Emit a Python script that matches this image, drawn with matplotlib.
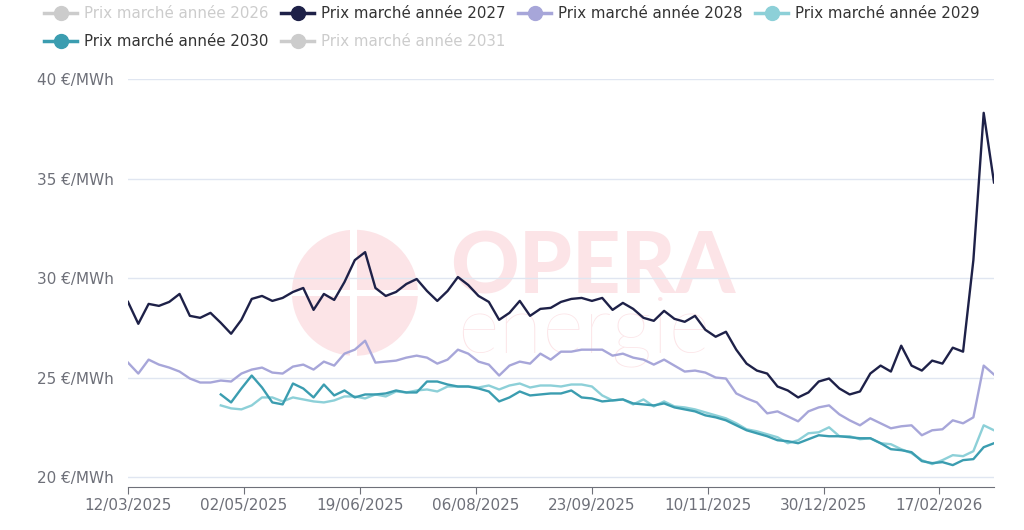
import numpy as np
import matplotlib.pyplot as plt
from matplotlib.lines import Line2D
from matplotlib.patches import Ellipse, Rectangle

# x axis: trading days, one label every 34 days
tick_labels = ["12/03/2025", "02/05/2025", "19/06/2025", "06/08/2025",
               "23/09/2025", "10/11/2025", "30/12/2025", "17/02/2026"]
tick_every = 34
n_days = 254

# prices read every ~3 trading days (€/MWh)
prix_2027 = [28.8, 27.7, 28.7, 28.6, 28.8, 29.2, 28.1, 28.0, 28.25, 27.75,
             27.2, 27.9, 28.95, 29.1, 28.85, 29.0, 29.3, 29.5, 28.4, 29.2,
             28.9, 29.8, 30.9, 31.3, 29.5, 29.1, 29.3, 29.7, 29.95, 29.35,
             28.85, 29.35, 30.05, 29.65, 29.1, 28.8, 27.9, 28.25, 28.85, 28.1,
             28.45, 28.5, 28.8, 28.95, 29.0, 28.85, 29.0, 28.4, 28.75, 28.45,
             28.0, 27.85, 28.35, 27.95, 27.8, 28.1, 27.4, 27.05, 27.3, 26.4,
             25.7, 25.35, 25.2, 24.55, 24.35, 24.0, 24.25, 24.8, 24.95, 24.45,
             24.15, 24.3, 25.2, 25.6, 25.3, 26.6, 25.6, 25.35, 25.85, 25.7,
             26.5, 26.3, 30.9, 38.3, 34.8]

prix_2028 = [25.75, 25.2, 25.9, 25.65, 25.5, 25.3, 24.95, 24.75, 24.75, 24.85,
             24.8, 25.2, 25.4, 25.5, 25.25, 25.2, 25.55, 25.65, 25.4, 25.8,
             25.6, 26.2, 26.4, 26.85, 25.75, 25.8, 25.85, 26.0, 26.1, 26.0,
             25.7, 25.9, 26.4, 26.2, 25.8, 25.65, 25.1, 25.6, 25.8, 25.7,
             26.2, 25.9, 26.3, 26.3, 26.4, 26.4, 26.4, 26.1, 26.2, 26.0,
             25.9, 25.65, 25.9, 25.6, 25.3, 25.35, 25.25, 25.0, 24.95, 24.2,
             23.95, 23.75, 23.2, 23.3, 23.05, 22.8, 23.3, 23.5, 23.6, 23.15,
             22.85, 22.6, 22.95, 22.7, 22.45, 22.55, 22.6, 22.1, 22.35, 22.4,
             22.85, 22.7, 23.0, 25.6, 25.15]

prix_2029 = [np.nan] * 9 + [
             23.6, 23.45, 23.4, 23.6, 24.0, 24.0, 23.8, 24.0, 23.9, 23.8, 23.75,
             23.85, 24.05, 24.05, 23.95, 24.15, 24.05, 24.3, 24.25, 24.35, 24.4,
             24.3, 24.55, 24.55, 24.55, 24.5, 24.6, 24.4, 24.6, 24.7, 24.5,
             24.6, 24.6, 24.55, 24.65, 24.65, 24.55, 24.1, 23.85, 23.9, 23.65,
             23.9, 23.55, 23.8, 23.55, 23.5, 23.4, 23.25, 23.1, 22.95, 22.7,
             22.4, 22.3, 22.15, 22.0, 21.7, 21.85, 22.2, 22.25, 22.5, 22.05,
             22.05, 21.9, 21.95, 21.7, 21.65, 21.4, 21.2, 20.85, 20.65, 20.85,
             21.1, 21.05, 21.3, 22.6, 22.35]

prix_2030 = [np.nan] * 9 + [
             24.15, 23.75, 24.45, 25.1, 24.5, 23.75, 23.65, 24.7, 24.45, 24.0, 24.65,
             24.1, 24.35, 24.0, 24.15, 24.15, 24.2, 24.35, 24.25, 24.25, 24.8,
             24.8, 24.65, 24.55, 24.55, 24.45, 24.3, 23.8, 24.0, 24.3, 24.1,
             24.15, 24.2, 24.2, 24.35, 24.0, 23.95, 23.8, 23.85, 23.9, 23.7,
             23.65, 23.6, 23.7, 23.5, 23.4, 23.3, 23.1, 23.0, 22.85, 22.6,
             22.35, 22.2, 22.05, 21.85, 21.8, 21.7, 21.9, 22.1, 22.05, 22.05,
             22.0, 21.95, 21.95, 21.7, 21.4, 21.35, 21.25, 20.8, 20.7, 20.75,
             20.6, 20.85, 20.9, 21.5, 21.7]

series = [("Prix marché année 2027", prix_2027, "#1e2148"),
          ("Prix marché année 2028", prix_2028, "#a7a6d9"),
          ("Prix marché année 2029", prix_2029, "#8dd0d8"),
          ("Prix marché année 2030", prix_2030, "#3b9db0")]

grey = "#6e7079"
pink = "#fce4e7"

fig = plt.figure(figsize=(10.24, 5.30), dpi=100)
ax = fig.add_axes([128 / 1024, 1 - 487 / 530, 866 / 1024, 408 / 530])

days = np.linspace(0, n_days, len(prix_2027))
for name, vals, col in series:
    ax.plot(days, vals, color=col, lw=1.7, zorder=3)

# watermark
ax.add_patch(Ellipse((0.262, 0.476), 0.1455, 0.309, transform=ax.transAxes,
                     color=pink, lw=0, zorder=0.1))
ax.add_patch(Rectangle((0.2564, 0.30), 0.0075, 0.35, transform=ax.transAxes,
                       color="white", lw=0, zorder=0.2))
ax.add_patch(Rectangle((0.18, 0.468), 0.17, 0.0155, transform=ax.transAxes,
                       color="white", lw=0, zorder=0.2))
ax.text(0.372, 0.475, "OPERA", transform=ax.transAxes, color=pink,
        fontsize=61, fontfamily="Lato", fontweight="black", va="baseline",
        ha="left", zorder=0.1)
ax.text(0.380, 0.330, "energie", transform=ax.transAxes, color=pink,
        fontsize=58, fontfamily="Lato", fontweight="light", va="baseline",
        ha="left", zorder=0.1)

ax.set_xlim(0, n_days)
ax.set_ylim(19.5, 40)
ax.set_yticks([20, 25, 30, 35, 40])
ax.set_yticklabels([f"{v} €/MWh" for v in [20, 25, 30, 35, 40]])
ax.set_xticks(np.arange(len(tick_labels)) * tick_every)
ax.set_xticklabels(tick_labels)

ax.grid(axis="y", color="#e0e6f1", lw=1)
ax.set_axisbelow(True)
for s in ["top", "right", "left"]:
    ax.spines[s].set_visible(False)
ax.spines["bottom"].set_color(grey)
ax.tick_params(axis="x", length=5, color=grey, labelcolor=grey,
               labelsize=11, pad=3)
ax.tick_params(axis="y", length=0, labelcolor=grey, labelsize=11, pad=10)

# legend, filled column by column to get the row order of the original
hidden = "#cccccc"
entries = {
    "Prix marché année 2026": hidden,
    "Prix marché année 2027": series[0][2],
    "Prix marché année 2028": series[1][2],
    "Prix marché année 2029": series[2][2],
    "Prix marché année 2030": series[3][2],
    "Prix marché année 2031": hidden,
}
order = ["Prix marché année 2026", "Prix marché année 2030",
         "Prix marché année 2027", "Prix marché année 2031",
         "Prix marché année 2028", "Prix marché année 2029"]
handles = [Line2D([0], [0], color=entries[k], lw=2.5, marker="o",
                  markersize=10, markeredgecolor=entries[k]) for k in order]
leg = fig.legend(handles, order, loc="upper center", bbox_to_anchor=(0.5, 1.0),
                 ncol=4, frameon=False, fontsize=10.8, handlelength=2.2,
                 handletextpad=0.45, columnspacing=0.85, labelspacing=0.9,
                 borderaxespad=0.2, borderpad=0.2)
for t, k in zip(leg.get_texts(), order):
    t.set_color("#333333" if entries[k] != hidden else hidden)

fig.savefig("out.png", dpi=100)
